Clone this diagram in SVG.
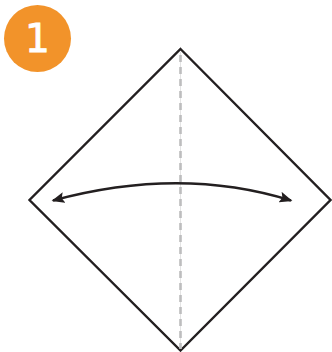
<svg xmlns="http://www.w3.org/2000/svg" width="332" height="352" viewBox="0 0 332 352">
<style>
.fold{fill:none;stroke:#bdbdbe;stroke-width:2.6;stroke-dasharray:7 5}
.edge{fill:none;stroke:#231f20;stroke-width:2.4}
.arc{fill:none;stroke:#231f20;stroke-width:2.5}
.head{fill:#231f20}
.num{font-family:"DejaVu Sans",sans-serif;font-size:39px;fill:#fff;stroke:#fff;stroke-width:.9;text-anchor:middle}
</style>
<defs>
<marker id="arrow" viewBox="0 0 13 11" refX="11.5" refY="5.5" markerWidth="13" markerHeight="11" markerUnits="userSpaceOnUse" orient="auto-start-reverse"><path class="head" d="M0 0L13 5.5L0 11L2.5 5.5Z"/></marker>
</defs>
<g id="badge">
<circle cx="37.5" cy="38.5" r="33.5" fill="#f2932a"/>
<text class="num" x="37.5" y="51.5">1</text>
</g>
<g id="paper">
<path class="edge" d="M180.5 49L330.5 200L180.5 350.5L29.5 200Z"/>
</g>
<g id="connectors">
<path d="M180.5 52V349" fill="none" stroke="#e4e4e4" stroke-width="1"/>
<path class="fold" d="M180.5 55V349"/>
<path class="arc" d="M53 200.500Q180 166 291 200.500" marker-start="url(#arrow)" marker-end="url(#arrow)"/>
</g>
</svg>
